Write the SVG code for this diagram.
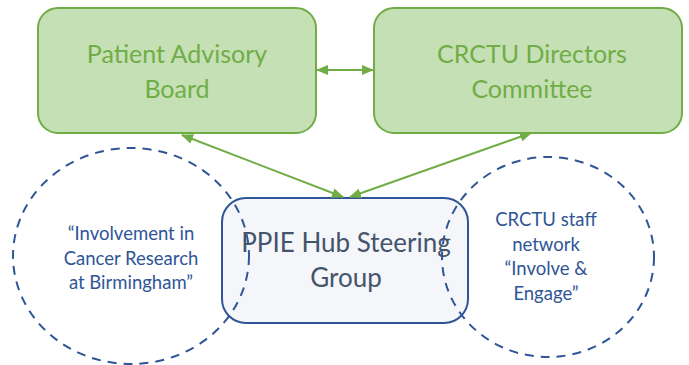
<svg xmlns="http://www.w3.org/2000/svg" width="689" height="365" viewBox="0 0 689 365">
<defs>
<marker id="ah" viewBox="0 0 12 10" refX="11" refY="5" markerWidth="12" markerHeight="10" markerUnits="userSpaceOnUse" orient="auto-start-reverse">
<path d="M0,0 L12,5 L0,10 Z" fill="#70ad47"/>
</marker>
<style>
.gbox{fill:#c5e0b4;stroke:#70ad47;stroke-width:2}
.gtxt{font-family:Lato,"Open Sans",sans-serif;font-size:25px;fill:#70ad47;text-anchor:middle}
.conn{stroke:#70ad47;stroke-width:2;fill:none;marker-start:url(#ah);marker-end:url(#ah)}
.dash{fill:none;stroke:#2f5597;stroke-width:2;stroke-dasharray:9,7}
.btxt{font-family:Lato,"Open Sans",sans-serif;font-size:18.5px;fill:#2f5597;text-anchor:middle}
.ptxt{font-family:Lato,"Open Sans",sans-serif;font-size:26px;fill:#44546a;text-anchor:middle}
</style>
</defs>
<rect width="689" height="365" fill="#ffffff"/>
<g id="pab">
<rect class="gbox" x="38" y="8" width="278" height="125" rx="20"/>
<text class="gtxt" x="177" y="63">Patient Advisory</text>
<text class="gtxt" x="177" y="98">Board</text>
</g>
<g id="crctu-dc">
<rect class="gbox" x="374" y="8" width="308" height="125" rx="20"/>
<text class="gtxt" x="532" y="63">CRCTU Directors</text>
<text class="gtxt" x="532" y="98">Committee</text>
</g>
<g id="ppie">
<rect x="222" y="198" width="246" height="125" rx="24" fill="#f4f6fa" stroke="#2f5597" stroke-width="2"/>
<text class="ptxt" x="346" y="252">PPIE Hub Steering</text>
<text class="ptxt" x="346" y="287">Group</text>
</g>
<g id="icrb">
<ellipse class="dash" cx="131" cy="256" rx="118" ry="108"/>
<text class="btxt" x="131" y="240">“Involvement in</text>
<text class="btxt" x="131" y="265">Cancer Research</text>
<text class="btxt" x="131" y="289">at Birmingham”</text>
</g>
<g id="staff">
<ellipse class="dash" cx="548" cy="257" rx="106" ry="100"/>
<text class="btxt" x="546" y="226">CRCTU staff</text>
<text class="btxt" x="546" y="251">network</text>
<text class="btxt" x="546" y="275">“Involve &amp;</text>
<text class="btxt" x="546" y="300">Engage”</text>
</g>
<g id="connectors">
<line class="conn" x1="317" y1="70" x2="373" y2="70"/>
<line class="conn" x1="182" y1="135" x2="343" y2="197"/>
<line class="conn" x1="350" y1="197" x2="531" y2="133"/>
</g>
</svg>
